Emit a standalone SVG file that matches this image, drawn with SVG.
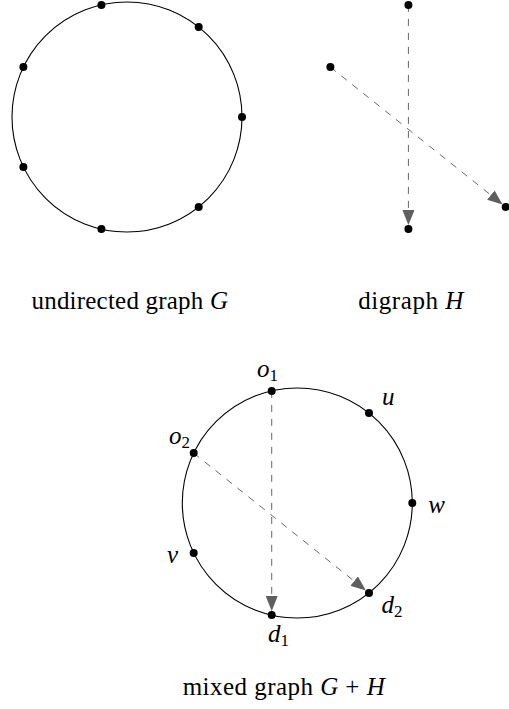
<svg xmlns="http://www.w3.org/2000/svg" width="509" height="709" viewBox="0 0 509 709">
<style>
.ring{fill:none;stroke:#000;stroke-width:1.1}
.dot{fill:#000}
.arc{fill:none;stroke:#666;stroke-width:1;stroke-dasharray:7 7}
</style>
<defs>
<marker id="ah" markerUnits="userSpaceOnUse" viewBox="0 0 15 12" markerWidth="15" markerHeight="12" refX="15" refY="6" orient="auto">
<path d="M0,0 L15,6 L0,12 z" fill="#5f5f5f"/>
</marker>
</defs>
<g id="graphG">
<circle class="ring" cx="127" cy="117" r="115"/>
<g id="g0"><circle class="dot" cx="242" cy="117" r="4"/></g>
<g id="g1"><circle class="dot" cx="198.7" cy="27.09" r="4"/></g>
<g id="g2"><circle class="dot" cx="101.41" cy="4.89" r="4"/></g>
<g id="g3"><circle class="dot" cx="23.39" cy="67.1" r="4"/></g>
<g id="g4"><circle class="dot" cx="23.39" cy="166.9" r="4"/></g>
<g id="g5"><circle class="dot" cx="101.41" cy="229.11" r="4"/></g>
<g id="g6"><circle class="dot" cx="198.7" cy="206.91" r="4"/></g>
</g>
<g id="graphH-connectors">
<line class="arc" x1="408.41" y1="4.89" x2="408.41" y2="225.1" marker-end="url(#ah)"/>
<line class="arc" x1="330.39" y1="67.1" x2="502.57" y2="204.42" marker-end="url(#ah)"/>
</g>
<g id="graphH">
<g id="h2"><circle class="dot" cx="408.41" cy="4.89" r="4"/></g>
<g id="h3"><circle class="dot" cx="330.39" cy="67.1" r="4"/></g>
<g id="h5"><circle class="dot" cx="408.41" cy="229.11" r="4"/></g>
<g id="h6"><circle class="dot" cx="505.7" cy="206.91" r="4"/></g>
</g>
<text font-family="Liberation Serif" font-size="25" x="31.5" y="309" textLength="196.5" lengthAdjust="spacing">undirected graph <tspan font-style="italic">G</tspan></text>
<text font-family="Liberation Serif" font-size="25" x="358.3" y="309" textLength="105" lengthAdjust="spacing">digraph <tspan font-style="italic">H</tspan></text>
<g id="mixed">
<circle class="ring" cx="297.3" cy="503" r="115"/>
</g>
<g id="mixed-connectors">
<line class="arc" x1="271.71" y1="390.89" x2="271.71" y2="611.1" marker-end="url(#ah)"/>
<line class="arc" x1="193.69" y1="453.1" x2="365.87" y2="590.42" marker-end="url(#ah)"/>
</g>
<g id="w"><circle class="dot" cx="412.3" cy="503" r="4"/><text font-family="Liberation Serif" font-size="25" font-style="italic" x="428.3" y="513">w</text></g>
<g id="u"><circle class="dot" cx="369" cy="413.09" r="4"/><text font-family="Liberation Serif" font-size="25" font-style="italic" x="382" y="405">u</text></g>
<g id="o1"><circle class="dot" cx="271.71" cy="390.89" r="4"/><text font-family="Liberation Serif" font-size="25" font-style="italic" x="257" y="377">o<tspan font-size="17" font-style="normal" dy="4">1</tspan></text></g>
<g id="o2"><circle class="dot" cx="193.69" cy="453.1" r="4"/><text font-family="Liberation Serif" font-size="25" font-style="italic" x="169" y="443.5">o<tspan font-size="17" font-style="normal" dy="4">2</tspan></text></g>
<g id="v"><circle class="dot" cx="193.69" cy="552.9" r="4"/><text font-family="Liberation Serif" font-size="25" font-style="italic" x="167" y="563">v</text></g>
<g id="d1"><circle class="dot" cx="271.71" cy="615.11" r="4"/><text font-family="Liberation Serif" font-size="25" font-style="italic" x="268" y="641.7">d<tspan font-size="17" font-style="normal" dy="4">1</tspan></text></g>
<g id="d2"><circle class="dot" cx="369" cy="592.91" r="4"/><text font-family="Liberation Serif" font-size="25" font-style="italic" x="381.5" y="613.3">d<tspan font-size="17" font-style="normal" dy="4">2</tspan></text></g>
<text font-family="Liberation Serif" font-size="25" x="182.7" y="695" textLength="202" lengthAdjust="spacing">mixed graph <tspan font-style="italic">G</tspan> + <tspan font-style="italic">H</tspan></text>
</svg>
